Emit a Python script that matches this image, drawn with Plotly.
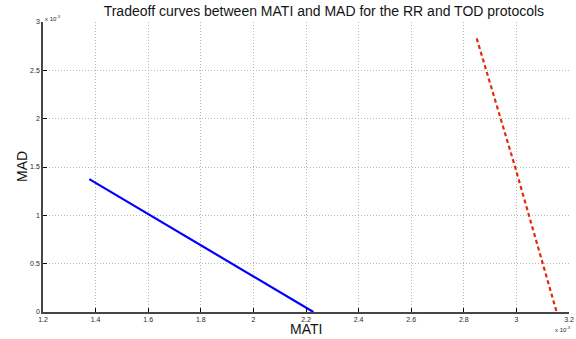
import plotly.graph_objects as go

# Data (actual units, seconds)
rr_mati = [1.376e-3, 2.228e-3]
rr_mad = [1.375e-3, 0.0]
tod_mati = [2.849e-3, 2.995e-3, 3.153e-3]
tod_mad = [2.83e-3, 1.5e-3, 0.0]

x_tickvals = [1.2e-3, 1.4e-3, 1.6e-3, 1.8e-3, 2.0e-3, 2.2e-3, 2.4e-3, 2.6e-3, 2.8e-3, 3.0e-3, 3.2e-3]
x_ticktext = ["1.2", "1.4", "1.6", "1.8", "2", "2.2", "2.4", "2.6", "2.8", "3", "3.2"]
y_tickvals = [0, 0.5e-3, 1.0e-3, 1.5e-3, 2.0e-3, 2.5e-3, 3.0e-3]
y_ticktext = ["0", "0.5", "1", "1.5", "2", "2.5", "3"]

FONT = "Liberation Sans, Arial, Helvetica, sans-serif"
TXT = "rgb(20,20,20)"

fig = go.Figure()
fig.add_trace(go.Scatter(x=rr_mati, y=rr_mad, mode="lines",
                         line=dict(color="rgb(0,0,255)", width=2.2),
                         showlegend=False))
fig.add_trace(go.Scatter(x=tod_mati, y=tod_mad, mode="lines",
                         line=dict(color="rgb(228,40,10)", width=2.2, dash="4px,3px"),
                         showlegend=False))

axis_common = dict(
    showgrid=True, gridcolor="rgb(185,185,185)", griddash="1px,2px", gridwidth=1,
    zeroline=False, showline=True, linecolor="rgb(70,70,70)", linewidth=1.5,
    ticks="inside", ticklen=4, tickcolor="rgb(10,10,10)", tickwidth=1,
    tickfont=dict(family=FONT, size=7, color="rgb(40,40,40)"),
    mirror=False, automargin=False,
)

fig.update_layout(
    width=576, height=339,
    margin=dict(l=43, r=7, t=22, b=27),
    paper_bgcolor="white", plot_bgcolor="white",
    font=dict(family=FONT),
    title=dict(text="Tradeoff curves between MATI and MAD for the RR and TOD protocols",
               x=0.534, xanchor="center", xref="paper",
               y=0.9676, yanchor="middle",
               font=dict(family=FONT, size=14, color=TXT)),
    xaxis=dict(range=[1.2e-3, 3.2e-3], tickvals=x_tickvals, ticktext=x_ticktext,
               **axis_common),
    yaxis=dict(range=[0, 3.0e-3], tickvals=y_tickvals, ticktext=y_ticktext,
               **axis_common),
    annotations=[
        dict(text="MATI", xref="paper", yref="paper", x=0.5, y=0.0,
             xanchor="center", yanchor="middle", showarrow=False, yshift=-17,
             font=dict(family=FONT, size=14, color=TXT)),
        dict(text="MAD", xref="paper", yref="paper", x=0.0, y=0.5,
             xanchor="center", yanchor="middle", showarrow=False, xshift=-21,
             textangle=-90, font=dict(family=FONT, size=14, color=TXT)),
        dict(text="x 10<sup>-3</sup>", xref="paper", yref="paper", x=0.0, y=1.0,
             xanchor="left", yanchor="bottom", showarrow=False, xshift=0, yshift=-2,
             font=dict(family=FONT, size=6, color="rgb(40,40,40)")),
        dict(text="x 10<sup>-3</sup>", xref="paper", yref="paper", x=1.0, y=0.0,
             xanchor="right", yanchor="top", showarrow=False, xshift=4, yshift=-11,
             font=dict(family=FONT, size=6, color="rgb(40,40,40)")),
    ],
)

fig.write_html("out.html", config={"displayModeBar": False},
               post_script="document.body.style.margin='0';")
